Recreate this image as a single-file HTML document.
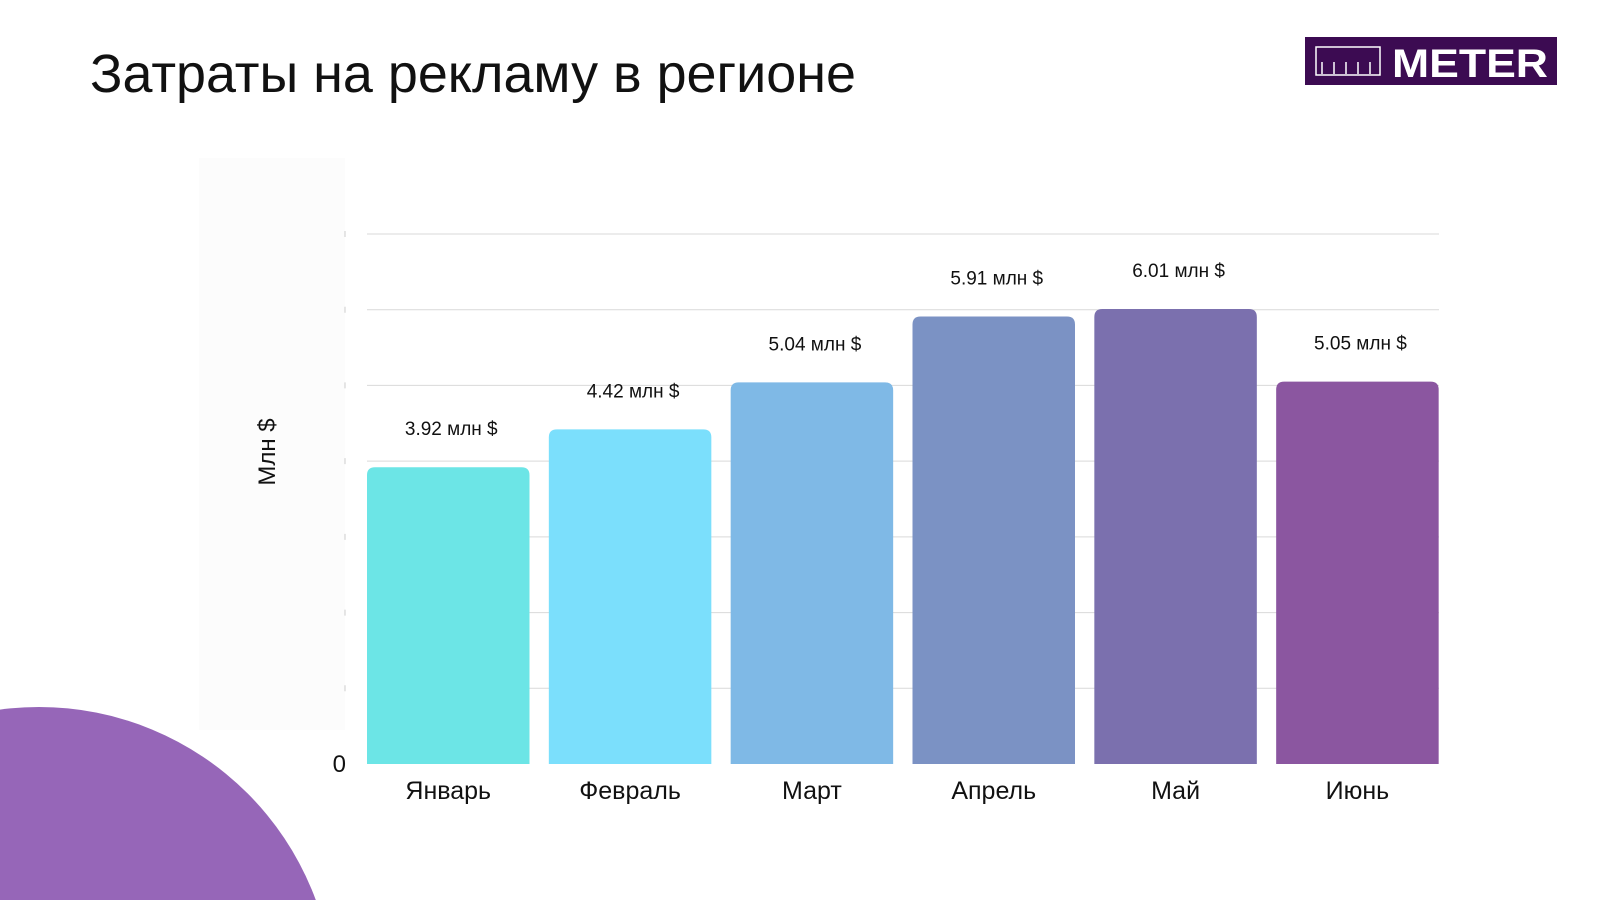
<!DOCTYPE html>
<html><head><meta charset="utf-8"><style>
body{margin:0;width:1600px;height:900px;overflow:hidden;background:#fff;font-family:"Liberation Sans",sans-serif}
svg{display:block;overflow:hidden}
</style></head><body>
<svg id="c" width="1600" height="900" viewBox="0 0 1600 900">
<clipPath id="frame"><rect x="0" y="0" width="1600" height="900"/></clipPath>
<g clip-path="url(#frame)">
<circle cx="39" cy="1002" r="295" fill="#9666b8"/>
</g>
<text x="90" y="92" font-size="54" fill="#111" textLength="766" lengthAdjust="spacingAndGlyphs">Затраты на рекламу в регионе</text>
<g>
<rect x="1305" y="37" width="252" height="48" fill="#3c0b52"/>
<rect x="1316" y="47" width="64" height="28" fill="none" stroke="#fff" stroke-width="1.5"/>
<path d="M1322 74v-12M1334 74v-12M1346 74v-12M1358 74v-12M1370 74v-12" stroke="#fff" stroke-width="1.5"/>
<text x="1392" y="77" font-size="40" font-weight="bold" fill="#fff" textLength="156" lengthAdjust="spacingAndGlyphs">METER</text>
</g>
<rect x="199" y="158" width="146" height="572" fill="#fcfcfc"/>
<text transform="translate(275,452) rotate(-90)" text-anchor="middle" font-size="24" fill="#111">Млн $</text>
<g id="grid"></g><g id="bars"></g>
</svg>
<script>
const categories=["Январь","Февраль","Март","Апрель","Май","Июнь"];
const values=[3.92,4.42,5.04,5.91,6.01,5.05];
const valueLabels=["3.92 млн $","4.42 млн $","5.04 млн $","5.91 млн $","6.01 млн $","5.05 млн $"];
const gridTicks=[1,2,3,4,5,6,7];
const colors=["#6ce5e6","#7bdffc","#7fb9e6","#7b92c4","#7b70ae","#8b56a0"];
const NS="http://www.w3.org/2000/svg";
const x0=367,x1=1439,y0=764,yMax=7,yTop=234;
const y=v=>y0-(v/yMax)*(y0-yTop);
const step=(x1-x0+19)/categories.length, bw=162.5;
const xb=i=>x0+i*step;
function mk(t,a,p){const e=document.createElementNS(NS,t);for(const k in a)e.setAttribute(k,a[k]);p.appendChild(e);return e;}
const g=document.getElementById('grid'),b=document.getElementById('bars');
gridTicks.forEach(t=>{
 const l=mk('line',{x1:x0,x2:x1,y1:y(t),y2:y(t),stroke:'#d9d9d9','stroke-width':1},g);
 
 
 const tk=mk('line',{x1:345,x2:345,y1:y(t)-3,y2:y(t)+3,stroke:'#ccc','stroke-width':1},g);
 
 
});
const z=mk('text',{x:346,y:y0+8,'font-size':24,fill:'#111','text-anchor':'end'},g);z.textContent='0';


categories.forEach((c,i)=>{
 const top=y(values[i]),x=xb(i),r=8;
 const p=mk('path',{d:`M${x} ${y0}V${top+r}Q${x} ${top} ${x+r} ${top}H${x+bw-r}Q${x+bw} ${top} ${x+bw} ${top+r}V${y0}Z`,fill:colors[i]},b);
 
 
 const v=mk('text',{x:x+bw/2+3,y:top-32,'font-size':19,fill:'#111','text-anchor':'middle'},b);v.textContent=valueLabels[i];
 
 
 const t=mk('text',{x:x+bw/2,y:799,'font-size':25,fill:'#111','text-anchor':'middle'},b);t.textContent=c;
 
 
});
</script>
</body></html>
